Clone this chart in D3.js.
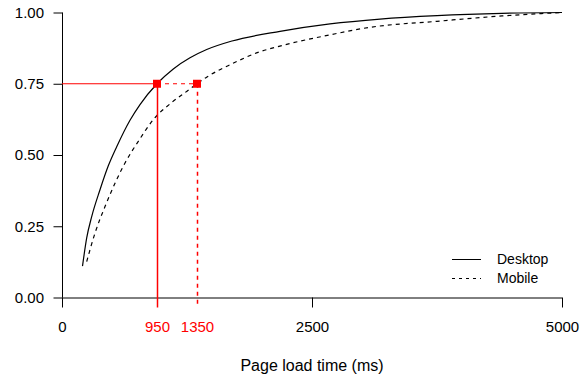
<!DOCTYPE html>
<html><head><meta charset="utf-8">
<script src="https://cdn.jsdelivr.net/npm/d3@7"></script>
<style>body{margin:0;background:#fff}svg{display:block;font-family:"Liberation Sans",Arial,sans-serif}</style>
</head><body><svg id="c" width="580" height="377"></svg>
<script>
const desktopMs  = [205,247,297,380,463,547,680,780,950,1113,1280,1447,1700,2180,2680,3180,3750,4400,5000];
const desktopVal = [0.11,0.209,0.284,0.378,0.462,0.529,0.622,0.677,0.75,0.802,0.841,0.87,0.9,0.934,0.96,0.977,0.989,0.997,1.0];
const mobileMs   = [247,330,430,530,630,763,913,1100,1250,1350,1450,1700,1960,2200,2700,3080,3750,4400,5000];
const mobileVal  = [0.126,0.226,0.319,0.401,0.472,0.548,0.624,0.685,0.724,0.75,0.774,0.82,0.86,0.884,0.923,0.948,0.969,0.988,1.0];
const xTicks = [0,950,1350,2500,5000];
const xTickRed = [950,1350];
const yTicks = [0,0.25,0.5,0.75,1];
const markers = [{ms:950,v:0.75,dash:false},{ms:1350,v:0.75,dash:true}];
const seriesNames = ["Desktop","Mobile"];

const svg = d3.select("#c");
const x = d3.scaleLinear().domain([0,5000]).range([62,562]);
const y = d3.scaleLinear().domain([0,1]).range([297.5,12.5]);
const red = "#ff0000";
const FONT = "Liberation Sans, Arial, sans-serif";

// y axis
const ya = svg.append("g").attr("transform","translate(62,0)")
  .call(d3.axisLeft(y).tickValues(yTicks).tickFormat(d3.format(".2f")).tickSize(9).tickPadding(9));
ya.select(".domain").attr("d","M0.5,"+y(1)+"V"+y(0)).attr("stroke","#000");
ya.selectAll("text").attr("font-size",15).attr("font-family",FONT).attr("fill","#000");
ya.selectAll("line").attr("stroke","#000").attr("transform","translate(0.5,0)");

// x axis
const xa = svg.append("g").attr("transform","translate(0,"+y(0)+")")
  .call(d3.axisBottom(x).tickValues(xTicks).tickFormat(d3.format("d")).tickSize(10).tickPadding(14));
xa.select(".domain").attr("d","M"+x(0)+",0.5H"+x(5000)).attr("stroke","#000");
xa.selectAll("text").attr("font-size",15).attr("font-family",FONT)
  .attr("fill",d=>xTickRed.includes(d)?red:"#000");
xa.selectAll(".tick line").attr("stroke",d=>xTickRed.includes(d)?"none":"#000");

svg.append("text").attr("x",x(2500)).attr("y",371).attr("text-anchor","middle")
  .attr("font-size",16).attr("font-family",FONT).text("Page load time (ms)");

// curves
const line = d3.line().x(d=>x(d[0])).y(d=>y(d[1])).curve(d3.curveMonotoneX);
const dData = desktopMs.map((m,i)=>[m,desktopVal[i]]);
const mData = mobileMs.map((m,i)=>[m,mobileVal[i]]);
svg.append("path").attr("d",line(dData)).attr("fill","none").attr("stroke","#000").attr("stroke-width",1.2);
svg.append("path").attr("d",line(mData)).attr("fill","none").attr("stroke","#000").attr("stroke-width",1.2).attr("stroke-dasharray","4,4");

// red guide lines
const guides = svg.append("g");
markers.forEach(m=>{
  const xs = m.dash ? x(markers[0].ms) : x(0);
  guides.append("line").attr("x1",xs).attr("x2",x(m.ms)).attr("y1",y(m.v)).attr("y2",y(m.v))
    .style("stroke",red).style("stroke-width","1.2px").style("stroke-dasharray",m.dash?"4,4":"none");
  guides.append("line").attr("x1",x(m.ms)+0.5).attr("x2",x(m.ms)+0.5).attr("y1",y(m.v)).attr("y2",y(0)+10)
    .style("stroke",red).style("stroke-width","1.5px").style("stroke-dasharray",m.dash?"4,4":"none");
});

// markers
markers.forEach(m=>{
  svg.append("rect").attr("x",x(m.ms)-4).attr("y",y(m.v)-4).attr("width",8).attr("height",8).attr("fill",red);
});

// legend
const lg = svg.append("g");
seriesNames.forEach((n,i)=>{
  const yy = 259 + i*19;
  lg.append("line").attr("x1",452).attr("x2",481).attr("y1",yy+0.5).attr("y2",yy+0.5)
    .attr("stroke","#000").attr("stroke-width",1).attr("stroke-dasharray",i?"3,4":null);
  lg.append("text").attr("x",497).attr("y",yy+5).attr("font-size",14).attr("font-family",FONT).text(n);
});
</script></body></html>
